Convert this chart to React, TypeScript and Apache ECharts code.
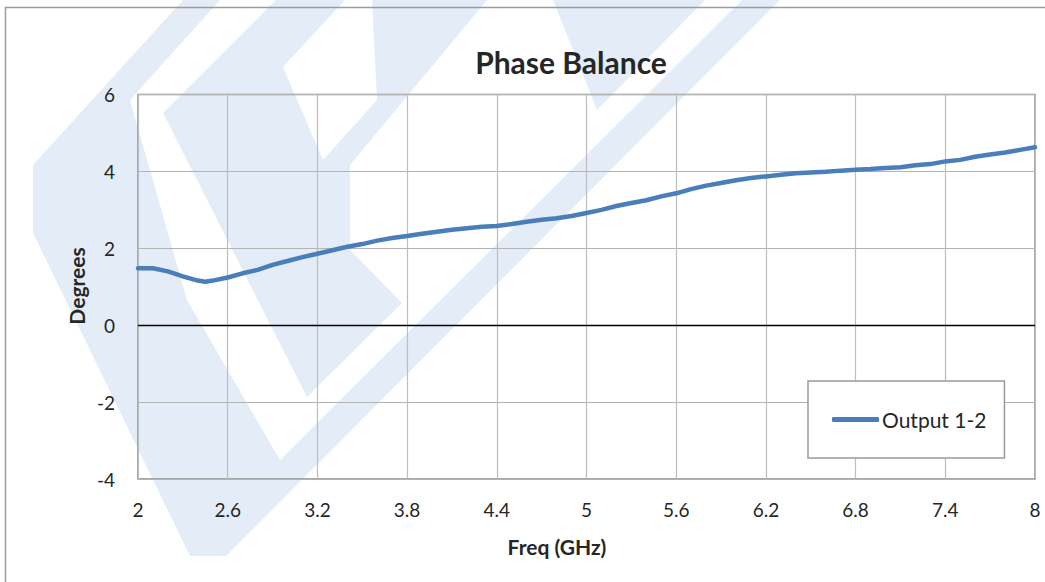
import React, { useEffect, useRef } from "react";
import * as echarts from "echarts";

// Frequency (GHz) and phase balance (degrees)
const freqGHz = [
  2.0, 2.1, 2.2, 2.3, 2.4, 2.45, 2.5, 2.6, 2.7, 2.8, 2.9, 3.0, 3.1, 3.2, 3.3, 3.4, 3.5, 3.6, 3.7, 3.8,
  3.9, 4.0, 4.1, 4.2, 4.3, 4.4, 4.5, 4.6, 4.7, 4.8, 4.9, 5.0, 5.1, 5.2, 5.3, 5.4, 5.5, 5.6, 5.7, 5.8,
  5.9, 6.0, 6.1, 6.2, 6.3, 6.4, 6.5, 6.6, 6.7, 6.8, 6.9, 7.0, 7.1, 7.2, 7.3, 7.4, 7.5, 7.6, 7.7, 7.8,
  7.9, 8.0,
];
const output12 = [
  1.48, 1.48, 1.4, 1.27, 1.16, 1.13, 1.16, 1.24, 1.35, 1.44, 1.57, 1.67, 1.77, 1.86, 1.95, 2.04, 2.11,
  2.2, 2.27, 2.32, 2.38, 2.43, 2.48, 2.52, 2.56, 2.58, 2.63, 2.69, 2.74, 2.78, 2.84, 2.92, 3.0, 3.1,
  3.18, 3.25, 3.35, 3.43, 3.54, 3.63, 3.7, 3.77, 3.83, 3.87, 3.91, 3.95, 3.97, 3.99, 4.02, 4.04, 4.06,
  4.09, 4.11, 4.16, 4.19, 4.26, 4.3, 4.38, 4.44, 4.49, 4.56, 4.63,
];
const seriesName = "Output 1-2";
const chartTitle = "Phase Balance";
const xTitle = "Freq (GHz)";
const yTitle = "Degrees";
const xRange = [2, 8, 0.6];
const yRange = [-4, 6, 2];

// Faint background logo watermark (page pixel outlines)
const watermarkShapes = [
  [[183, 0], [220, 0], [130, 100], [187, 300], [280, 460], [742, 0], [780, 0], [226, 556], [190, 556], [33, 233], [33, 165]],
  [[276, 0], [345, 0], [283, 67], [323, 160], [377, 100], [372, 0], [487, 0], [350, 165], [350, 250], [402, 303], [307, 397], [163, 113]],
  [[553, 0], [705, 0], [597, 110]],
];

const FONT = "Lato, 'Open Sans', 'DejaVu Sans', sans-serif";

export default function App() {
  const ref = useRef<HTMLDivElement>(null);

  useEffect(() => {
    document.body.style.margin = "0";
    if (!ref.current) return;
    const chart = echarts.init(ref.current, undefined, { renderer: "svg" });

    const data = freqGHz.map((f, i) => [f, output12[i]]);

    const graphics: any[] = watermarkShapes.map((pts) => ({
      type: "polygon",
      z: -10,
      silent: true,
      shape: { points: pts },
      style: { fill: "#e4edf7" },
    }));
    graphics.push({
      type: "rect",
      z: -5,
      silent: true,
      shape: { x: 5.5, y: 7.5, width: 1200, height: 800 },
      style: { fill: "none", stroke: "#9c9c9c", lineWidth: 1.5 },
    });
    graphics.push({
      type: "text",
      x: 557,
      y: 546,
      style: {
        text: xTitle,
        fontFamily: FONT,
        fontWeight: "bold",
        fontSize: 21,
        fill: "#262626",
        align: "center",
        verticalAlign: "middle",
      },
    });
    graphics.push({
      type: "text",
      x: 76,
      y: 286,
      rotation: Math.PI / 2,
      style: {
        text: yTitle,
        fontFamily: FONT,
        fontWeight: "bold",
        fontSize: 21,
        fill: "#262626",
        align: "center",
        verticalAlign: "middle",
      },
    });

    chart.setOption({
      animation: false,
      backgroundColor: "#ffffff",
      title: {
        text: chartTitle,
        left: 566,
        top: 42,
        textAlign: "center",
        textStyle: { fontFamily: FONT, fontWeight: "bold", fontSize: 30, color: "#262626" },
      },
      graphic: graphics,
      grid: {
        left: 138,
        right: 10,
        top: 94.5,
        bottom: 103,
        show: true,
        borderColor: "#8e8e8e",
        borderWidth: 1.5,
        backgroundColor: "transparent",
      },
      legend: {
        left: 808,
        top: 381,
        orient: "vertical",
        backgroundColor: "#ffffff",
        borderColor: "#9a9a9a",
        borderWidth: 1.5,
        borderRadius: 0,
        padding: [28, 18, 28, 24],
        icon: "roundRect",
        itemWidth: 47,
        itemHeight: 5,
        itemGap: 0,
        textStyle: { fontFamily: FONT, fontSize: 21, color: "#262626", padding: [0, 0, 0, -2] },
        data: [seriesName],
      },
      xAxis: {
        type: "value",
        min: xRange[0],
        max: xRange[1],
        interval: xRange[2],
        axisLine: { show: false },
        axisTick: { show: false },
        splitLine: { show: true, lineStyle: { color: "#bdbdbd", width: 1.2 } },
        axisLabel: {
          margin: 21,
          fontFamily: FONT,
          fontSize: 19,
          color: "#262626",
          formatter: (v: number) => String(+v.toFixed(1)),
        },
      },
      yAxis: {
        type: "value",
        min: yRange[0],
        max: yRange[1],
        interval: yRange[2],
        axisLine: { show: false },
        axisTick: { show: false },
        splitLine: { show: true, lineStyle: { color: "#b3b3b3", width: 1.2 } },
        axisLabel: { margin: 23, fontFamily: FONT, fontSize: 19, color: "#262626" },
      },
      series: [
        {
          name: seriesName,
          type: "line",
          data,
          showSymbol: false,
          symbol: "none",
          color: "#4a7ebb",
          lineStyle: { color: "#4a7ebb", width: 4.5, cap: "round", join: "round" },
          markLine: {
            silent: true,
            symbol: ["none", "none"],
            label: { show: false },
            lineStyle: { color: "#000000", width: 1.3, type: "solid" },
            data: [{ yAxis: 0 }],
          },
          z: 3,
        },
      ],
    });

    return () => chart.dispose();
  }, []);

  return <div ref={ref} style={{ width: 1045, height: 582 }} />;
}
